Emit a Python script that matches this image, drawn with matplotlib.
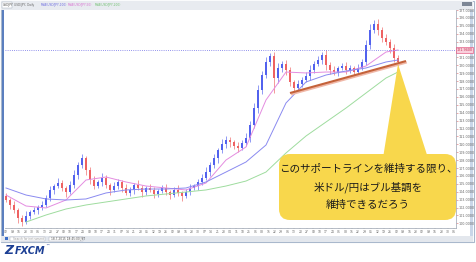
import numpy as np
import pandas as pd
import matplotlib
matplotlib.use('Agg')
import matplotlib.pyplot as plt
from matplotlib.patches import Rectangle, FancyBboxPatch, Polygon
import matplotlib.patheffects as pe

# --- data (USD/JPY daily, squeezed to ~100 bars) ---
first_open = 103.4
closes = [102.95, 102.32, 101.68, 100.67, 100.16, 100.92, 101.43, 101.68, 102.06, 102.32,
          103.20, 104.22, 104.72, 105.10, 104.47, 103.96, 104.85, 106.11, 107.38, 108.27,
          106.75, 105.48, 104.72, 105.23, 105.73, 104.85, 104.22, 104.72, 105.23, 104.47,
          103.84, 104.22, 104.85, 104.47, 103.96, 104.47, 104.22, 103.71, 104.09, 104.47,
          103.96, 103.58, 104.22, 103.84, 103.46, 103.96, 104.47, 104.72, 105.23, 105.73,
          106.49, 107.38, 108.27, 109.28, 110.04, 110.54, 110.29, 109.78, 109.53, 110.16,
          110.80, 112.44, 114.59, 116.87, 118.77, 120.42, 121.18, 118.39, 119.66, 120.16,
          119.41, 117.89, 117.13, 117.63, 118.14, 118.65, 119.41, 120.16, 120.67, 121.30,
          120.04, 119.41, 119.15, 119.66, 119.91, 119.41, 119.66, 119.15, 119.66, 120.42,
          122.57, 124.47, 125.23, 124.47, 123.46, 122.95, 122.19, 120.92, 120.42]
upper_wick = [0.4, 0.3, 0.5, 0.3, 0.4, 0.6, 0.3, 0.4, 0.3, 0.5,
              0.4, 0.5, 0.3, 0.6, 0.4, 0.3, 0.5, 0.6, 0.4, 0.5,
              0.3, 0.4, 0.5, 0.3, 0.6, 0.4, 0.3, 0.5, 0.4, 0.3,
              0.5, 0.4, 0.3, 0.6, 0.4, 0.3, 0.5, 0.4, 0.3, 0.4,
              0.5, 0.3, 0.4, 0.6, 0.3, 0.4, 0.5, 0.3, 0.4, 0.5,
              0.6, 0.4, 0.5, 0.3, 0.6, 0.5, 0.4, 0.3, 0.5, 0.4,
              0.6, 0.5, 0.7, 0.6, 0.5, 0.6, 0.4, 0.5, 0.6, 0.4,
              0.5, 0.4, 0.3, 0.5, 0.4, 0.5, 0.6, 0.4, 0.5, 0.4,
              0.6, 0.4, 0.5, 0.3, 0.4, 0.5, 0.4, 0.3, 0.5, 0.4,
              0.6, 0.7, 0.5, 0.6, 0.4, 0.5, 0.4, 0.5, 0.4]
lower_wick = [0.3, 0.5, 0.4, 0.6, 0.5, 0.3, 0.4, 0.3, 0.5, 0.4,
              0.3, 0.4, 0.5, 0.3, 0.4, 0.6, 0.3, 0.4, 0.5, 0.4,
              0.6, 0.5, 0.4, 0.3, 0.5, 0.4, 0.6, 0.3, 0.4, 0.5,
              0.3, 0.4, 0.5, 0.3, 0.6, 0.4, 0.3, 0.5, 0.4, 0.3,
              0.4, 0.5, 0.3, 0.4, 0.6, 0.3, 0.4, 0.3, 0.5, 0.4,
              0.3, 0.5, 0.4, 0.6, 0.4, 0.5, 0.6, 0.4, 0.5, 0.3,
              0.4, 0.5, 0.4, 0.6, 0.5, 0.4, 0.5, 1.9, 0.6, 0.5,
              0.6, 0.5, 0.6, 0.5, 0.4, 0.3, 0.5, 0.4, 0.3, 0.5,
              0.6, 0.5, 0.4, 0.5, 0.3, 0.5, 0.4, 0.6, 0.4, 0.3,
              0.4, 0.5, 0.4, 0.6, 0.5, 0.4, 0.6, 0.5, 0.5]

# moving averages, read every 5th bar
ma_idx = [0, 5, 10, 15, 20, 25, 30, 35, 40, 45, 50, 55, 60, 65, 70, 75, 80, 85, 90, 95, 98]
ma_short = [103.58, 102.19, 101.94, 102.95, 105.48, 105.86, 105.23, 104.72, 104.47, 104.22, 105.10,
            108.01, 109.66, 115.61, 119.15, 119.03, 119.15, 119.15, 119.91, 121.68, 121.94]
ma_mid = [104.47, 103.58, 103.08, 102.95, 103.08, 103.84, 104.22, 104.34, 104.34, 104.47, 105.23,
          106.49, 107.76, 109.91, 115.23, 117.89, 118.77, 119.28, 119.66, 120.42, 120.67]
ma_long = [None, 100.16, 101.05, 101.81, 102.32, 102.70, 103.08, 103.46, 103.71, 103.96, 104.22,
           104.72, 105.35, 106.49, 108.90, 111.05, 112.82, 114.59, 116.49, 118.39, 119.15]

support_idx = [71, 100]
support_px = [116.49, 120.54]
resistance = 121.94

price_ticks = [v for v in range(100, 128) if v != 122]
callout_lines = ['このサポートラインを維持する限り、', '米ドル/円はブル基調を', '維持できるだろう']
legend_items = [('USD/JPY, Daily', '#666'), ('MVA(USD/JPY,100)', '#6d6de0'),
                ('MVA(USD/JPY,50)', '#d870d0'), ('MVA(USD/JPY,200)', '#70c070')]

# --- figure ---
W, H = 476, 262
fig = plt.figure(figsize=(W / 100, H / 100), dpi=100)
fig.patch.set_facecolor('white')

bg = fig.add_axes([0, 0, 1, 1], zorder=0)
bg.set_xlim(0, W)
bg.set_ylim(H, 0)
bg.axis('off')
bg.add_patch(Rectangle((0.5, 0.5), 473, 241.5, fc='white', ec='#a9b8cc', lw=0.8))
bg.add_patch(Rectangle((1, 1), 472, 8.5, fc='#e8ebf0', ec='none'))
bg.add_patch(Rectangle((1.5, 9.5), 2.5, 226, fc='#5b7fbf', ec='none'))
bg.add_patch(Rectangle((1, 235.5), 472, 6.5, fc='#e3e7ed', ec='none'))
bg.add_patch(Rectangle((469.5, 9.5), 3.5, 226, fc='#c9d6e8', ec='none'))
bg.add_patch(Rectangle((462, 1.5), 10, 4, fc='#7d8796', ec='none'))

# title strip with the indicator legend
bg.add_patch(Rectangle((2, 2), 10, 5.5, fc='white', ec='#9aa6b6', lw=0.3))
bg.text(2.5, 5, 'USDJPY', fontsize=2.2, color='#555', va='center')
for k, (label, col) in enumerate(legend_items):
    bg.text(14 + 27 * k, 5, label, fontsize=2.1, color=col, va='center')

# status bar
bg.add_patch(Rectangle((5, 236.5), 3, 3.5, fc='#3d6fc8', ec='none'))
bg.add_patch(Rectangle((10, 236.5), 35, 4, fc='white', ec='#a0a8b4', lw=0.3))
bg.text(13, 238.6, 'Search for instrument', fontsize=2.1, color='#999', va='center')
bg.add_patch(Rectangle((49, 236.5), 34, 4, fc='white', ec='#a0a8b4', lw=0.3))
bg.text(51, 238.6, '18.7.2015 18:45:00 JST', fontsize=2.1, color='#444', va='center')

# --- price axes ---
ax = fig.add_axes([5 / W, (H - 228) / H, (456 - 5) / W, (228 - 10) / H], zorder=1)
ax.set_facecolor('white')

opens = [first_open] + closes[:-1]
for i, (o, c) in enumerate(zip(opens, closes)):
    col = '#5262ee' if c >= o else '#ee6262'
    hi = max(o, c) + upper_wick[i]
    lo = min(o, c) - lower_wick[i]
    ax.vlines(i, lo, hi, color=col, lw=0.45)
    ax.bar(i, max(abs(c - o), 0.08), bottom=min(o, c), width=0.32, color=col, lw=0)

ax.plot(ma_idx, ma_short, color='#e48ce0', lw=0.7)
ax.plot(ma_idx, ma_mid, color='#8a8af0', lw=0.7)
lx = [x for x, v in zip(ma_idx, ma_long) if v is not None]
lv = [v for v in ma_long if v is not None]
ax.plot(lx, lv, color='#9edc9e', lw=0.7)

ax.plot(support_idx, support_px, color='#c4623a', lw=1.5, solid_capstyle='butt',
        path_effects=[pe.SimpleLineShadow(offset=(0.6, -1.0), shadow_color='#f0b8a8', alpha=1),
                      pe.Normal()])

ax.axhline(resistance, color='#6f6fe6', ls=(0, (1, 1.6)), lw=0.6)

ax.set_xlim(-0.25, 112.5)
ax.set_ylim(127 - 218 / 7.9, 127)

ax.yaxis.tick_right()
ax.set_yticks(price_ticks, [f'{v}.0000' for v in price_ticks])
ax.tick_params(axis='y', labelsize=2.4, labelcolor='#666', color='#e06a6a',
               length=1.5, width=0.4, pad=0.6)
ax.text(1.002, resistance, f'{resistance:.4f}', transform=ax.get_yaxis_transform(),
        fontsize=2.4, color='#c03050', va='center',
        bbox=dict(fc='#f9d0dc', ec='#e04070', lw=0.4, pad=0.4))

weeks = pd.date_range('2013-12-02', periods=71, freq='W-MON')
wpos = np.arange(len(weeks)) * 1.6
ax.set_xticks(wpos, [d.strftime('%d') for d in weeks])
mstart = [k for k in range(len(weeks)) if k == 0 or weeks[k].month != weeks[k - 1].month]
ax.set_xticks(wpos[mstart], [weeks[k].strftime('%m/%y') for k in mstart], minor=True)
ax.tick_params(axis='x', which='major', labelsize=2.2, labelcolor='#666', color='#999',
               length=1, width=0.3, pad=0.6)
ax.tick_params(axis='x', which='minor', labelsize=2.2, labelcolor='#666', length=0, pad=4.2)

for s in ['left', 'top']:
    ax.spines[s].set_visible(False)
ax.spines['right'].set_color('#9aa3b0')
ax.spines['right'].set_linewidth(0.5)
ax.spines['bottom'].set_color('#9aa3b0')
ax.spines['bottom'].set_linewidth(0.5)

# --- callout and logo on top ---
fg = fig.add_axes([0, 0, 1, 1], zorder=2)
fg.set_xlim(0, W)
fg.set_ylim(H, 0)
fg.axis('off')
fg.patch.set_alpha(0)
yellow = '#f8d74c'
fg.add_patch(Polygon([(398, 64), (383, 158), (428, 158)], closed=True, fc=yellow, ec='none'))
fg.add_patch(FancyBboxPatch((279, 154), 177, 66, boxstyle='round,pad=0,rounding_size=11',
                            fc=yellow, ec='none'))
for k, line in enumerate(callout_lines):
    fg.text(368, 169 + 18 * k, line, fontsize=7.6, ha='center', va='center', color='#1a1a1a',
            family=['Noto Sans CJK JP', 'DejaVu Sans'])

fg.text(4, 251, 'Z', fontsize=9, fontweight='bold', fontstyle='italic', color='#1c3f94',
        va='center')
fg.text(15, 251, 'FXCM', fontsize=7, fontweight='bold', fontstyle='italic', color='#1c3f94',
        va='center')
fg.text(45, 245.5, '™', fontsize=3, color='#1c3f94', va='center')

fig.savefig('out.png', dpi=100)
